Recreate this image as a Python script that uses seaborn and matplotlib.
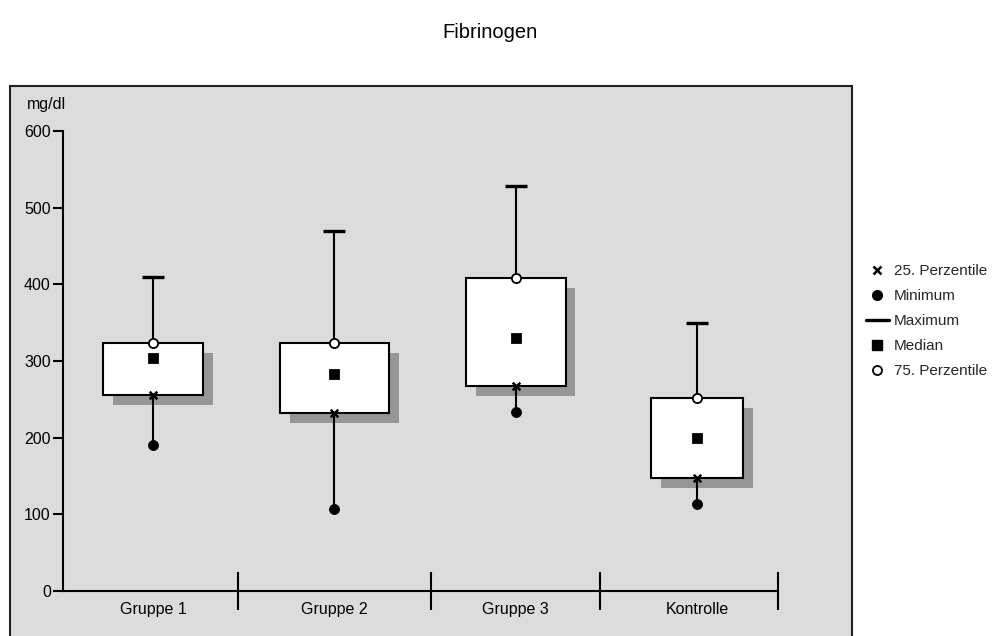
import numpy as np
import pandas as pd
import matplotlib
matplotlib.use("Agg")
import matplotlib.pyplot as plt
import seaborn as sns
from matplotlib.patches import Rectangle
from matplotlib.lines import Line2D

# ---- data ----
groups = ["Gruppe 1", "Gruppe 2", "Gruppe 3", "Kontrolle"]
minimum = [190, 107, 233, 114]
perc25 = [256, 232, 267, 148]
median = [304, 283, 330, 199]
perc75 = [324, 324, 408, 252]
maximum = [409, 470, 528, 350]
y_ticks = [0, 100, 200, 300, 400, 500, 600]
legend_labels = ["25. Perzentile", "Minimum", "Maximum", "Median", "75. Perzentile"]

sns.set_theme(style="white")
plt.rcParams['font.family'] = ['Liberation Sans', 'DejaVu Sans']

W, H = 993, 636
fig = plt.figure(figsize=(W / 100, H / 100), dpi=100)
fig.patch.set_facecolor('white')

# grey panel with dark frame
frame = Rectangle((10 / W, -0.05), (852 - 10) / W, (H - 86) / H + 0.05,
                  transform=fig.transFigure, facecolor='#dcdcdc',
                  edgecolor='#222222', lw=1.5, zorder=-5)
fig.patches.append(frame)

ax = fig.add_axes([63.3 / W, (H - 591) / H, 714.7 / W, 460 / H])
ax.set_zorder(3)
ax.set_facecolor('none')

df = pd.DataFrame({"group": groups, "min": minimum, "q25": perc25,
                   "med": median, "q75": perc75, "max": maximum})
df["x"] = np.arange(len(groups))

box_widths = [0.55, 0.6, 0.55, 0.51]
sx, sy = 0.055, 13
# shadow
ax.bar(df["x"] + sx, df["q75"] - df["q25"], bottom=df["q25"] - sy,
       width=box_widths, color='#969696', zorder=1, linewidth=0)
# whiskers
ax.vlines(df["x"], df["min"], df["max"], color='black', lw=1.5, zorder=2)
# boxes
ax.bar(df["x"], df["q75"] - df["q25"], bottom=df["q25"], width=box_widths,
       facecolor='white', edgecolor='black', linewidth=1.5, zorder=3)

sns.scatterplot(data=df, x="x", y="max", marker='_', s=256, linewidth=2.4,
                color='black', ax=ax, zorder=5, legend=False, clip_on=False)
sns.scatterplot(data=df, x="x", y="min", marker='o', s=52, color='black',
                edgecolor='black', ax=ax, zorder=5, legend=False)
sns.scatterplot(data=df, x="x", y="med", marker='s', s=50, color='black',
                edgecolor='black', ax=ax, zorder=5, legend=False)
sns.scatterplot(data=df, x="x", y="q75", marker='o', s=44, facecolor='white',
                edgecolor='black', linewidth=1.3, ax=ax, zorder=5, legend=False)
sns.scatterplot(data=df, x="x", y="q25", marker='x', s=30, color='black',
                linewidth=1.8, ax=ax, zorder=5, legend=False)

ax.set_xlim(-0.495, 3.447)
ax.set_ylim(0, 600)
ax.set_xlabel("")
ax.set_ylabel("")

for s in ["top", "right"]:
    ax.spines[s].set_visible(False)
for s in ["left", "bottom"]:
    ax.spines[s].set_color('black')
    ax.spines[s].set_linewidth(1.5)
ax.spines["left"].set_bounds(0, 600)

ax.set_yticks(y_ticks)
ax.set_yticklabels([str(t) for t in y_ticks])
ax.tick_params(axis='y', direction='out', length=7, width=1.5, color='black',
               labelsize=11.5, pad=2, left=True, labelcolor='black')
ax.set_xticks(df["x"])
ax.set_xticklabels(groups)
ax.tick_params(axis='x', which='major', length=0, labelsize=11.5, pad=8,
               labelcolor='black')
ax.set_xticks([0.469, 1.533, 2.466, 3.447], minor=True)
ax.tick_params(axis='x', which='minor', direction='inout', length=28,
               width=1.5, color='black', bottom=True)

fig.text(27 / W, 1 - 105 / H, "mg/dl", va='center', ha='left', fontsize=11.5,
         color='black')
fig.text(490 / W, 1 - 32 / H, "Fibrinogen", va='center', ha='center',
         fontsize=14.5, color='black')

handles = [
    Line2D([], [], marker='x', linestyle='none', color='black', markersize=5.5, mew=1.8),
    Line2D([], [], marker='o', linestyle='none', color='black', markersize=7),
    Line2D([], [], linestyle='-', color='black', lw=2.4),
    Line2D([], [], marker='s', linestyle='none', color='black', markersize=7),
    Line2D([], [], marker='o', linestyle='none', markerfacecolor='white',
           markeredgecolor='black', markersize=6.5, mew=1.3),
]
fig.legend(handles, legend_labels, loc='upper left',
           bbox_to_anchor=(866 / W, 1 - 264 / H), frameon=False, fontsize=11,
           handlelength=1.5, handletextpad=0.3, labelspacing=0.72,
           borderpad=0, borderaxespad=0)

fig.savefig("out.png", dpi=100)
